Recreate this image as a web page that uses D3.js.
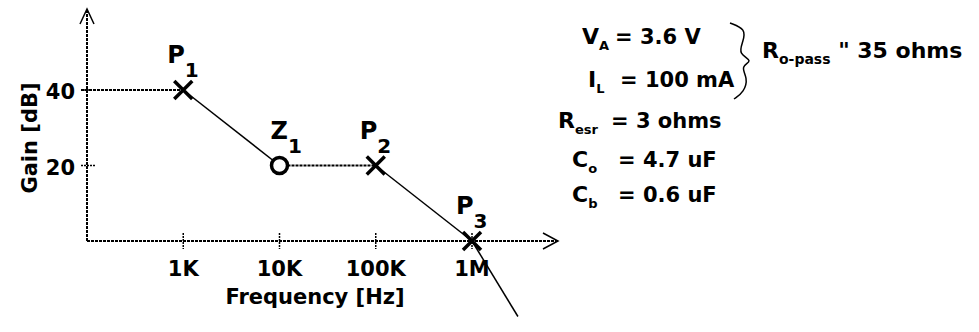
<!DOCTYPE html>
<html>
<head>
<meta charset="utf-8">
<script src="https://cdn.jsdelivr.net/npm/d3@7"></script>
<style>
  body { margin: 0; background: #fff; }
  text { font-family: "DejaVu Sans", "Liberation Sans", Arial, sans-serif; font-weight: bold; fill: #000; }
</style>
</head>
<body>
<script>
// x axis ticks (log frequency) and y axis ticks (gain)
const freqTicks = [1e3, 1e4, 1e5, 1e6];
const freqLabels = ["1K", "10K", "100K", "1M"];
const gainTicks = [20, 40];

// asymptotic gain curve, starting at the y axis
const curveFreq = [1e2, 1e3, 1e4, 1e5, 1e6, 3e6];
const curveGain = [40, 40, 20, 20, 0, -20];

// poles and zero
const markerName = ["P", "Z", "P", "P"];
const markerSub = ["1", "1", "2", "3"];
const markerFreq = [1e3, 1e4, 1e5, 1e6];
const markerGain = [40, 20, 20, 0];
const markerKind = ["x", "o", "x", "x"];

// parameter notes on the right
const paramName = ["V", "I", "R", "C", "C"];
const paramSub = ["A", "L", "esr", "o", "b"];
const paramValue = ["= 3.6 V", "= 100 mA", "= 3 ohms", "= 4.7 uF", "= 0.6 uF"];

const width = 979, height = 332;
const svg = d3.select("body").append("svg")
    .attr("width", width)
    .attr("height", height);

const x = d3.scaleLog().domain([1e2, 1e6]).range([87, 472]);
const y = d3.scaleLinear().domain([0, 40]).range([241, 90]);

const x0 = x.range()[0], yBase = y(0);
const xEnd = 558, yTop = 9;

// axes (dotted look, like the scan)
const axisStyle = g => g.attr("stroke", "#000").attr("stroke-width", 2).attr("stroke-dasharray", "3,1").attr("fill", "none");
svg.append("line").attr("x1", x0).attr("y1", yBase).attr("x2", x0).attr("y2", yTop).call(axisStyle);
svg.append("line").attr("x1", x0).attr("y1", yBase).attr("x2", xEnd).attr("y2", yBase).call(axisStyle);

// open arrow heads
svg.append("path").attr("d", `M${x0 - 7},${yTop + 15}L${x0},${yTop}L${x0 + 7},${yTop + 15}`)
    .attr("fill", "none").attr("stroke", "#000").attr("stroke-width", 1.5);
svg.append("path").attr("d", `M${xEnd - 15},${yBase - 8}L${xEnd},${yBase}L${xEnd - 15},${yBase + 8}`)
    .attr("fill", "none").attr("stroke", "#000").attr("stroke-width", 1.5);

// x ticks
svg.selectAll(".xtick").data(freqTicks).join("line")
    .attr("x1", d => x(d)).attr("x2", d => x(d))
    .attr("y1", yBase - 8).attr("y2", yBase + 8)
    .attr("stroke", "#000").attr("stroke-width", 1.5).attr("stroke-dasharray", "2,1");
svg.selectAll(".xlab").data(freqTicks).join("text")
    .attr("x", d => x(d)).attr("y", yBase + 35)
    .attr("text-anchor", "middle").attr("font-size", 21)
    .text((d, i) => freqLabels[i]);

// y ticks
svg.selectAll(".ytick").data(gainTicks).join("line")
    .attr("x1", x0 - 6).attr("x2", x0 + 8)
    .attr("y1", d => y(d)).attr("y2", d => y(d))
    .attr("stroke", "#000").attr("stroke-width", 1.5).attr("stroke-dasharray", "2,1");
svg.selectAll(".ylab").data(gainTicks).join("text")
    .attr("x", x0 - 12).attr("y", d => y(d) + 9)
    .attr("text-anchor", "end").attr("font-size", 21)
    .text(d => d);

// axis titles
svg.append("text").attr("x", 315).attr("y", 304)
    .attr("text-anchor", "middle").attr("font-size", 21)
    .text("Frequency [Hz]");
svg.append("text").attr("transform", "translate(37,138) rotate(-90)")
    .attr("text-anchor", "middle").attr("font-size", 21)
    .text("Gain [dB]");

// curve segments: flat parts dotted, sloped parts solid
const segs = d3.pairs(d3.range(curveFreq.length));
svg.selectAll(".seg").data(segs).join("line")
    .attr("x1", ([a]) => a === 0 ? x0 - 6 : x(curveFreq[a]))
    .attr("y1", ([a]) => y(curveGain[a]))
    .attr("x2", ([, b]) => x(curveFreq[b]))
    .attr("y2", ([, b]) => y(curveGain[b]))
    .attr("stroke", "#000")
    .attr("stroke-width", ([a, b]) => curveGain[a] === curveGain[b] ? 2 : 1.5)
    .attr("stroke-dasharray", ([a, b]) => curveGain[a] === curveGain[b] ? "3,1" : null);

// markers
const mk = svg.selectAll(".mk").data(d3.range(markerName.length)).join("g")
    .attr("transform", i => `translate(${x(markerFreq[i])},${y(markerGain[i])})`);
mk.filter(i => markerKind[i] === "x").append("path")
    .attr("d", "M-9,-9L9,9M-9,9L9,-9")
    .attr("stroke", "#000").attr("stroke-width", 3.5).attr("fill", "none");
mk.filter(i => markerKind[i] === "o").append("circle")
    .attr("r", 8).attr("fill", "#fff")
    .attr("stroke", "#000").attr("stroke-width", 3.5);
const ml = mk.append("text")
    .attr("x", i => markerKind[i] === "o" ? -9 : -16)
    .attr("y", -27).attr("font-size", 24);
ml.append("tspan").text(i => markerName[i]);
ml.append("tspan").attr("dy", 14).attr("font-size", 20).text(i => markerSub[i]);

// parameter block
const rowX = [582, 588, 558, 572, 572];
const eqX = [615, 620, 611, 618, 618];
const rowY = [44, 87, 128, 167, 202];
const pg = svg.selectAll(".param").data(d3.range(paramName.length)).join("g");
const pn = pg.append("text")
    .attr("x", i => rowX[i]).attr("y", i => rowY[i]).attr("font-size", 22);
pn.append("tspan").text(i => paramName[i]);
pn.append("tspan").attr("dy", 6).attr("font-size", 13).text(i => paramSub[i]);
pg.append("text")
    .attr("x", i => eqX[i]).attr("y", i => rowY[i]).attr("font-size", 21)
    .text(i => paramValue[i]);

// brace joining V_A and I_L
svg.append("path")
    .attr("d", d3.line().curve(d3.curveBasis)([
        [730, 23], [746, 29], [743, 42], [738, 54], [754, 61],
        [740, 66], [748, 78], [744, 92], [734, 99]
    ]))
    .attr("fill", "none").attr("stroke", "#000").attr("stroke-width", 1.5);

const rp = svg.append("text").attr("x", 762).attr("y", 58).attr("font-size", 22);
rp.append("tspan").text("R");
rp.append("tspan").attr("dy", 6).attr("font-size", 14).text("o-pass");
rp.append("tspan").attr("dy", -6).attr("font-size", 22).text(" \" 35 ohms");
</script>
</body>
</html>
